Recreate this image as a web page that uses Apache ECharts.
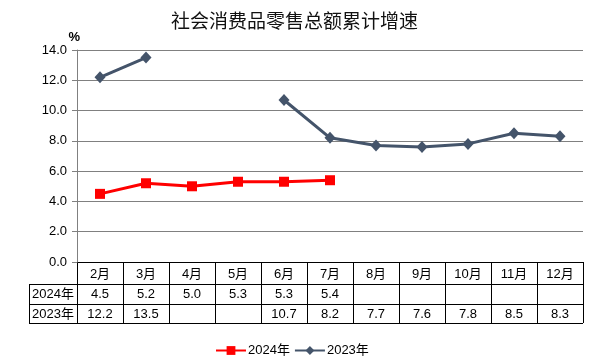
<!DOCTYPE html>
<html><head><meta charset="utf-8">
<script src="https://cdn.jsdelivr.net/npm/echarts@6/dist/echarts.min.js"></script>
<style>html,body{margin:0;padding:0;background:#fff}#c{width:597px;height:363px}</style>
</head><body><div id="c"></div>
<script>
const titleText = '社会消费品零售总额累计增速';
const months = ['2月','3月','4月','5月','6月','7月','8月','9月','10月','11月','12月'];
const seriesNames = ['2024年','2023年'];
const s2024 = [4.5,5.2,5.0,5.3,5.3,5.4,null,null,null,null,null];
const s2023 = [12.2,13.5,null,null,10.7,8.2,7.7,7.6,7.8,8.5,8.3];
const yMin = 0, yMax = 14, yStep = 2;

const FONT = '"Liberation Sans", Arial, "Noto Sans CJK SC", sans-serif';
const chart = echarts.init(document.getElementById('c'));
const option = {
  animation: false,
  backgroundColor: '#fff',
  title: {
    text: titleText, left: 166, top: 6,
    textStyle: {fontSize: 19, fontWeight: 'normal', color: '#111', fontFamily: '"Noto Sans CJK SC", sans-serif'}
  },
  legend: {
    bottom: 1, left: 210,
    itemWidth: 30, itemHeight: 11, itemGap: 4,
    textStyle: {fontSize: 13, color: '#000', fontFamily: FONT, padding: [0, 0, 0, -3]},
    data: seriesNames
  },
  grid: {left: 77, right: 14, top: 50, bottom: 101, containLabel: false},
  xAxis: {
    type: 'category', data: months, boundaryGap: true,
    axisLine: {show: false}, axisTick: {show: false}, axisLabel: {show: false}
  },
  yAxis: {
    type: 'value', min: yMin, max: yMax, interval: yStep,
    name: '%', nameLocation: 'end', nameGap: 5,
    nameTextStyle: {fontSize: 13, color: '#000', fontFamily: FONT, fontWeight: 'bold', align: 'right', padding: [0, -3, 0, 0]},
    axisLine: {show: true, lineStyle: {color: '#808080', width: 1}},
    axisTick: {show: true, length: 5, lineStyle: {color: '#808080'}},
    axisLabel: {fontSize: 13, color: '#000', fontFamily: FONT, margin: 10, formatter: v => v.toFixed(1)},
    splitLine: {show: true, lineStyle: {color: '#808080', width: 1}}
  },
  series: [
    {
      name: seriesNames[0], type: 'line', data: s2024, connectNulls: false,
      symbol: 'rect', symbolSize: 10,
      itemStyle: {color: '#FF0000'}, lineStyle: {color: '#FF0000', width: 3}
    },
    {
      name: seriesNames[1], type: 'line', data: s2023, connectNulls: false,
      symbol: 'diamond', symbolSize: [11, 12],
      itemStyle: {color: '#44546A'}, lineStyle: {color: '#44546A', width: 3}
    }
  ]
};
chart.setOption(option);

// Data table drawn under the plot, aligned to the category axis
function buildTable() {
  const x0 = chart.convertToPixel({xAxisIndex: 0}, 0);
  const x1 = chart.convertToPixel({xAxisIndex: 0}, 1);
  const band = x1 - x0;
  const leftEdge = x0 - band / 2;
  const rightEdge = leftEdge + band * months.length;
  const yTop = chart.convertToPixel({yAxisIndex: 0}, yMin);
  const rowH = [22, 19.5, 19.5];
  const rowY = [yTop, yTop + rowH[0], yTop + rowH[0] + rowH[1], yTop + rowH[0] + rowH[1] + rowH[2]];
  const labelColLeft = 29;
  const els = [];
  const line = (xa, ya, xb, yb) => els.push({type: 'line', silent: true,
    shape: {x1: xa, y1: ya, x2: xb, y2: yb}, style: {stroke: '#000', lineWidth: 1}});
  const text = (cx, cy, t) => els.push({type: 'text', silent: true, x: cx, y: cy,
    style: {text: t, fill: '#000', font: '13px ' + FONT, align: 'center', verticalAlign: 'middle'}});
  const r = v => Math.round(v) + 0.5;
  line(leftEdge, r(rowY[0]), rightEdge, r(rowY[0]));
  for (let k = 1; k < 4; k++) line(labelColLeft, r(rowY[k]), rightEdge, r(rowY[k]));
  for (let i = 0; i <= months.length; i++) {
    const xx = r(leftEdge + band * i);
    line(xx, rowY[0], xx, rowY[3]);
  }
  line(r(labelColLeft), rowY[1], r(labelColLeft), rowY[3]);
  const rowsData = [s2024, s2023];
  for (let i = 0; i < months.length; i++) {
    const cx = chart.convertToPixel({xAxisIndex: 0}, i);
    text(cx, (rowY[0] + rowY[1]) / 2 + 1, months[i]);
    rowsData.forEach((arr, k) => {
      if (arr[i] != null) text(cx, (rowY[k + 1] + rowY[k + 2]) / 2 + 1, arr[i].toFixed(1));
    });
  }
  seriesNames.forEach((n, k) => text((labelColLeft + leftEdge) / 2, (rowY[k + 1] + rowY[k + 2]) / 2 + 1, n));
  chart.setOption({graphic: {elements: els}});
}
buildTable();
</script></body></html>
